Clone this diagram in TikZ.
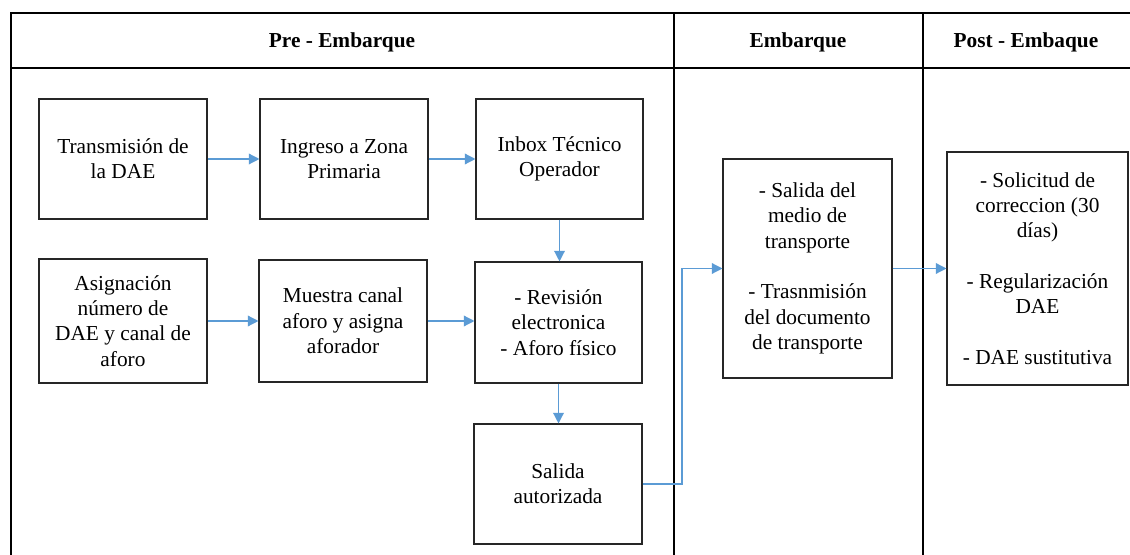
\documentclass[tikz,border=0pt]{standalone}
\usepackage{fontspec}
\setmainfont{LiberationSerif}[Extension=.ttf, UprightFont=*-Regular, BoldFont=*-Bold, ItalicFont=*-Italic, BoldItalicFont=*-BoldItalic]
\usetikzlibrary{arrows.meta}
\definecolor{arrowblue}{RGB}{91,155,213}
\begin{document}
\begin{tikzpicture}[x=0.75pt,y=-0.75pt,
  frame/.style={line width=1.5pt, draw=black},
  proc/.style={draw=black!85, line width=0.8pt, rectangle, inner sep=0pt, align=center,
    font=\fontsize{16}{19}\selectfont},
  head/.style={font=\fontsize{16}{19}\selectfont\bfseries},
  flow/.style={draw=arrowblue, line width=1pt, -{Triangle[length=8pt,width=8pt]}}]
\useasboundingbox (0,0) rectangle (1130,555);
% frame
\draw[frame] (1130,13) -- (10.5,13) -- (10.5,555);
\draw[frame] (10.5,68) -- (1130,68);
\draw[frame] (674,13) -- (674,555);
\draw[frame] (923,13) -- (923,555);
% headers
\node[head] (h1) at (342,42) {Pre - Embarque};
\node[head] (h2) at (798,42) {Embarque};
\node[head] (h3) at (1026,42) {Post - Embaque};
% boxes
\node[proc, minimum width=126pt, minimum height=90pt] (b1) at (123,159) {Transmisión de\\la DAE};
\node[proc, minimum width=126pt, minimum height=90pt] (b2) at (344,159) {Ingreso a Zona\\Primaria};
\node[proc, minimum width=125.25pt, minimum height=90pt] (b3) at (559.5,159) {Inbox Técnico\\Operador};
\node[proc, minimum width=126pt, minimum height=93pt] (b4) at (123,321) {Asignación\\número de\\DAE y canal de\\aforo};
\node[proc, minimum width=126pt, minimum height=91.5pt] (b5) at (343,321) {Muestra canal\\aforo y asigna\\aforador};
\node[proc, minimum width=125.25pt, minimum height=90.75pt] (b6) at (558.5,322.5) {- Revisión\\electronica\\- Aforo físico};
\node[proc, minimum width=126pt, minimum height=90pt] (b7) at (558,484) {Salida\\autorizada};
\node[proc, minimum width=126.75pt, minimum height=164.25pt] (e) at (807.5,268.5) {- Salida del\\medio de\\transporte\\[19pt]- Trasnmisión\\del documento\\de transporte};
\node[proc, minimum width=135.75pt, minimum height=174.75pt] (p) at (1037.5,268.5) {- Solicitud de\\correccion (30\\días)\\[19pt]- Regularización\\DAE\\[19pt]- DAE sustitutiva};
% connectors
\coordinate (elb) at (682,0);
\draw[flow] (b1.east) -- (b2.west |- b1.east);
\draw[flow] (b2.east) -- (b3.west |- b2.east);
\draw[flow] (b4.east) -- (b5.west |- b4.east);
\draw[flow] (b5.east) -- (b6.west |- b5.east);
\draw[flow] (b3.south) -- (b3.south |- b6.north);
\draw[flow] (b6.south) -- (b6.south |- b7.north);
\draw[flow] (b7.east) -- (elb |- b7.east) -- (elb |- e.west) -- (e.west);
\draw[flow] (e.east) -- (p.west |- e.east);
\end{tikzpicture}
\end{document}
